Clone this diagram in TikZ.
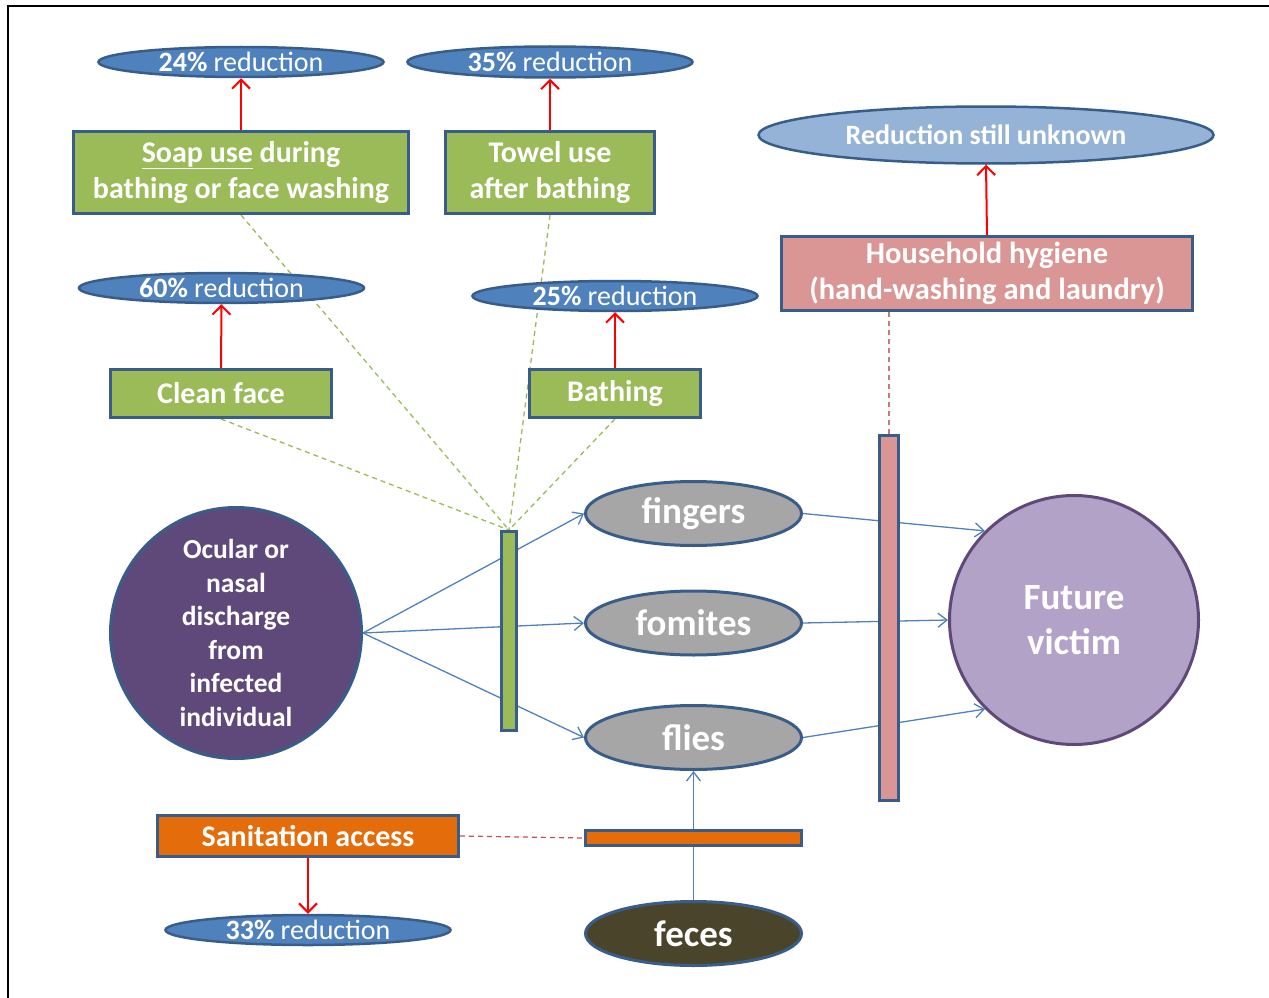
\documentclass[tikz,border=0pt]{standalone}
\usepackage{fontspec}
\setmainfont{Carlito}
\usetikzlibrary{shapes.geometric,arrows.meta}
\pgfdeclarelayer{bg}
\pgfsetlayers{bg,main}
\definecolor{bdr}{HTML}{385D8A}
\definecolor{bfill}{HTML}{4F81BD}
\definecolor{lbfill}{HTML}{95B3D7}
\definecolor{greenf}{HTML}{9BBB59}
\definecolor{pinkf}{HTML}{D99694}
\definecolor{orangef}{HTML}{E46C0A}
\definecolor{grayf}{HTML}{A6A6A6}
\definecolor{darkpurple}{HTML}{5F497A}
\definecolor{lightpurple}{HTML}{B3A2C7}
\definecolor{olive}{HTML}{4A452A}
\definecolor{bline}{HTML}{4F81BD}
\definecolor{pinkline}{HTML}{C77B79}
\definecolor{redline}{HTML}{C0504D}
\tikzset{
  redell/.style={ellipse, draw=bdr, line width=2.5pt, fill=bfill, text=white, inner sep=0pt, font=\fontsize{28}{34}\selectfont},
  box/.style={rectangle, draw=bdr, line width=3pt, text=white, inner sep=0pt, align=center, font=\bfseries\fontsize{30}{36}\selectfont},
  bar/.style={rectangle, draw=bdr, line width=3pt, inner sep=0pt},
  grayell/.style={ellipse, draw=bdr, line width=3pt, fill=grayf, text=white, inner sep=0pt, minimum width=216pt, minimum height=64pt, font=\bfseries\fontsize{37}{45}\selectfont},
  redarr/.style={draw=red, line width=2pt, -{Straight Barb[length=9pt,width=18pt]}},
  bluearr/.style={draw=bline, line width=1.3pt, -{Straight Barb[length=9pt,width=14pt]}},
  greendash/.style={draw=greenf, line width=1.3pt, dash pattern=on 5pt off 4pt},
}
\begin{document}
\begin{tikzpicture}[x=1pt,y=-1pt]
\useasboundingbox (0,0) rectangle (1269,998);
\draw[line width=2pt] (8,998) -- (8,6) -- (1269,6);

% reduction ellipses
\node[redell, minimum width=285pt, minimum height=30pt] (e24) at (241,62) {\textbf{24\%} reduction};
\node[redell, minimum width=285pt, minimum height=31pt] (e35) at (550,62) {\textbf{35\%} reduction};
\node[redell, fill=lbfill, minimum width=455pt, minimum height=57pt, font=\bfseries\fontsize{28}{34}\selectfont] (eunk) at (986,135) {Reduction still unknown};
\node[redell, minimum width=285pt, minimum height=30pt] (e60) at (221.5,288) {\textbf{60\%} reduction};
\node[redell, minimum width=285pt, minimum height=30pt] (e25) at (615,296) {\textbf{25\%} reduction};
\node[redell, minimum width=285pt, minimum height=30pt] (e33) at (308,930) {\textbf{33\%} reduction};

% intervention boxes
\node[box, fill=greenf, minimum width=335pt, minimum height=82pt] (soap) at (241,172.5) {\underline{Soap use} during\\bathing or face washing};
\node[box, fill=greenf, minimum width=209pt, minimum height=82pt] (towel) at (550,172.5) {Towel use\\after bathing};
\node[box, fill=pinkf, minimum width=411pt, minimum height=74pt, font=\bfseries\fontsize{30.5}{36}\selectfont] (house) at (987,273.5) {Household hygiene\\(hand-washing and laundry)};
\node[box, fill=greenf, minimum width=221pt, minimum height=48pt] (clean) at (221,393.5) {Clean face};
\node[box, fill=greenf, minimum width=171pt, minimum height=48pt] (bath) at (615,393.5) {Bathing};
\node[box, fill=orangef, minimum width=301pt, minimum height=41pt] (sanit) at (308,836) {Sanitation access};

% bars
\node[bar, fill=greenf, minimum width=15pt, minimum height=199pt] (gbar) at (509,631) {};
\node[bar, fill=pinkf, minimum width=19pt, minimum height=365pt] (pbar) at (889,618) {};
\node[bar, fill=orangef, minimum width=216pt, minimum height=15pt] (obar) at (693.5,838) {};

% transmission routes
\node[grayell] (fingers) at (693.5,513.5) {fingers};
\node[grayell] (fomites) at (693.5,623) {fomites};
\node[grayell] (flies) at (693.5,737.5) {flies};
\node[grayell, fill=olive] (feces) at (693.5,933.5) {feces};

% circles
\node[circle, draw=bdr, line width=3pt, fill=darkpurple, text=white, inner sep=0pt, minimum size=251pt, align=center, font=\bfseries\fontsize{27.5}{33.6}\selectfont] (ocular) at (236,633) {Ocular or\\nasal\\discharge\\from\\infected\\individual};
\node[circle, draw=darkpurple, line width=3pt, fill=lightpurple, text=white, inner sep=0pt, minimum size=249pt, align=center, font=\bfseries\fontsize{37}{45}\selectfont] (victim) at (1074,620) {Future\\victim};

\begin{pgfonlayer}{bg}
\draw[redarr] (soap.north) -- (e24.south);
\draw[redarr] (towel.north) -- (e35.south);
\draw[redarr] (house.north) -- (eunk.south);
\draw[redarr] (clean.north) -- (e60.south);
\draw[redarr] (bath.north) -- (e25.south);
\draw[redarr] (sanit.south) -- (e33.north);

\draw[greendash] (soap.south) -- (gbar.north);
\draw[greendash] (towel.south) -- (gbar.north);
\draw[greendash] (clean.south) -- (gbar.north);
\draw[greendash] (bath.south) -- (gbar.north);
\draw[draw=pinkline, line width=1.2pt, dash pattern=on 5pt off 4pt] (pbar.north |- house.south) -- (pbar.north);
\draw[draw=redline, line width=1.2pt, dash pattern=on 5pt off 4pt] (sanit.east) -- (obar.west);

\draw[bluearr] (ocular.east) -- (fingers.west);
\draw[bluearr] (ocular.east) -- (fomites.west);
\draw[bluearr] (ocular.east) -- (flies.west);
\draw[bluearr] (fingers.east) -- (victim.135);
\draw[bluearr] (fomites.east) -- (victim.west);
\draw[bluearr] (flies.east) -- (victim.225);
\draw[bluearr] (feces.north) -- (flies.south);
\end{pgfonlayer}
\end{tikzpicture}
\end{document}
